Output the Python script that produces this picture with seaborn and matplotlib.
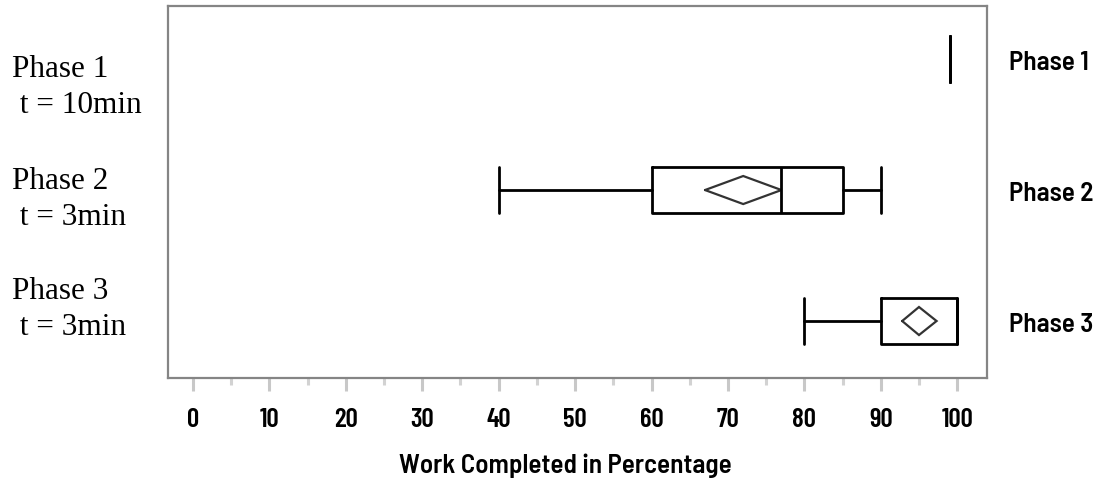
import matplotlib
matplotlib.use("Agg")
import matplotlib.pyplot as plt
from matplotlib.ticker import MultipleLocator
import seaborn as sns

# Summary statistics for each phase (percentage of work completed)
phases = ["Phase 1", "Phase 2", "Phase 3"]
left_labels = ["Phase 1\n t = 10min", "Phase 2\n t = 3min", "Phase 3\n t = 3min"]
whisker_low = [99, 40, 80]
q1 = [99, 60, 90]
median = [99, 77, 100]
q3 = [99, 85, 100]
whisker_high = [99, 90, 100]
# Mean and its confidence interval (drawn as diamonds); Phase 1 has no spread
mean = [None, 72, 95]
ci_low = [None, 67, 92.8]
ci_high = [None, 77, 97.3]

x_ticks = list(range(0, 101, 10))

sns.set_theme(style="white")
narrow = ["Barlow Condensed", "Archivo Narrow", "DejaVu Sans"]
semi = ["Barlow Semi Condensed", "Barlow Condensed", "DejaVu Sans"]
serif = ["Liberation Serif", "DejaVu Serif"]

fig = plt.figure(figsize=(11.01, 4.85), dpi=100)
ax = fig.add_axes([168 / 1101, 1 - 379 / 485, (987 - 168) / 1101, (379 - 7) / 485])

stats = []
for i, name in enumerate(phases):
    stats.append(dict(label=name, whislo=whisker_low[i], q1=q1[i], med=median[i],
                      q3=q3[i], whishi=whisker_high[i], fliers=[]))

box_w = 0.35
line_kw = dict(color="black", linewidth=2)
ax.bxp(stats, positions=range(len(phases)), widths=box_w, vert=False,
       showfliers=False, capwidths=box_w, manage_ticks=False,
       boxprops=line_kw, whiskerprops=line_kw, capprops=line_kw,
       medianprops=line_kw)

# Mean diamonds
diamond_h = 0.107
for i in range(len(phases)):
    if mean[i] is None:
        continue
    xs = [ci_low[i], mean[i], ci_high[i], mean[i], ci_low[i]]
    ys = [i, i - diamond_h, i, i + diamond_h, i]
    ax.plot(xs, ys, color="#333333", linewidth=1.6, solid_joinstyle="miter")

ax.set_xlim(-3.27, 103.9)
ax.set_ylim(2.435, -0.405)

# Frame
for s in ax.spines.values():
    s.set_color("#858585")
    s.set_linewidth(1.6)
    s.set_visible(True)

# X axis ticks
ax.xaxis.set_minor_locator(MultipleLocator(5))
ax.set_xticks(x_ticks)
ax.set_xticklabels([str(v) for v in x_ticks], family=narrow, fontweight=600,
                   fontsize=19.5, color="black")
ax.tick_params(axis="x", which="major", direction="out", length=9.5, width=2.2,
               color="#c8c8c8", pad=11.5, bottom=True)
ax.tick_params(axis="x", which="minor", direction="out", length=5, width=2.2,
               color="#d2d2d2", bottom=True)

# Phase names on the right
ax.set_yticks(range(len(phases)))
ax.yaxis.tick_right()
ax.set_yticklabels(phases, family=semi, fontweight=600, fontsize=19.5,
                   color="black")
ax.tick_params(axis="y", length=0, pad=16)

ax.set_xlabel("Work Completed in Percentage", family=semi, fontweight=600,
              fontsize=19.5, color="black")
ax.xaxis.set_label_coords((565 - 168) / (987 - 168), -0.2)

# Phase descriptions on the left
tops = [55, 167, 277]
for lab, top in zip(left_labels, tops):
    fig.text(12 / 1101, 1 - top / 485, lab, family=serif, fontsize=22.5,
             ha="left", va="top", color="black", linespacing=1.32)

fig.savefig("out.png", dpi=100)
